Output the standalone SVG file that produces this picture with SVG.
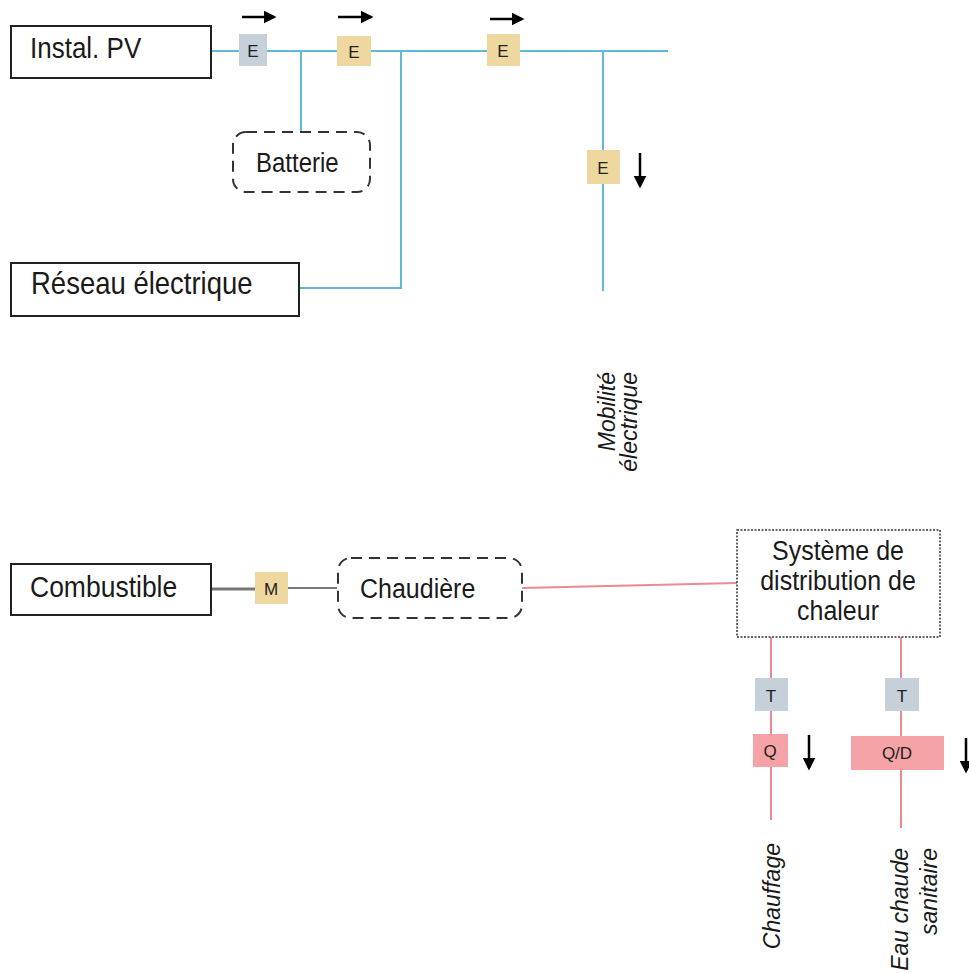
<svg xmlns="http://www.w3.org/2000/svg" width="969" height="973" viewBox="0 0 969 973">
  <style>
    .bg { fill: #ffffff; }
    .box { fill: #ffffff; stroke: #222222; stroke-width: 2; }
    .dash { fill: #ffffff; stroke: #333333; stroke-width: 2; stroke-dasharray: 11 7; }
    .dot { fill: #ffffff; stroke: #333333; stroke-width: 1.5; stroke-dasharray: 2 1.5; }
    .lbl { font-family: "Liberation Sans", Arial, sans-serif; font-size: 26px; fill: #1a1a1a; }
    .rot { font-family: "Liberation Sans", Arial, sans-serif; font-size: 23px; font-style: italic; fill: #1a1a1a; text-anchor: end; }
    .tag { font-family: "Liberation Sans", Arial, sans-serif; font-size: 17px; fill: #222222; text-anchor: middle; }
    .elec { stroke: #62b8d8; stroke-width: 2; fill: none; }
    .heat { stroke: #ec8a92; stroke-width: 2; fill: none; }
    .fuel { stroke: #777777; stroke-width: 3; fill: none; }
    .flow { stroke: #000000; stroke-width: 2.5; fill: none; marker-end: url(#head); }
    .grey { fill: #c5d0d8; }
    .sand { fill: #efd89f; }
    .rose { fill: #f5a3a7; }
  </style>
  <defs>
    <marker id="head" viewBox="0 0 10 10" refX="8" refY="5" markerWidth="5" markerHeight="5.2" orient="auto" markerUnits="strokeWidth">
      <path d="M0,0 L10,5 L0,10 Z" fill="#000000"/>
    </marker>
  </defs>
  <rect class="bg" x="0" y="0" width="969" height="973"/>

  <!-- connectors -->
  <g id="connectors">
    <path class="elec" d="M212,51 H668"/>
    <path class="elec" d="M301,51 V132"/>
    <path class="elec" d="M401,51 V288 H299"/>
    <path class="elec" d="M603,51 V291"/>
    <path class="fuel" d="M211,589 H255"/>
    <path class="fuel" d="M288,588 H337" style="stroke-width:2"/>
    <path class="heat" d="M522,588 L737,583"/>
    <path class="heat" d="M771,637 V820"/>
    <path class="heat" d="M901,637 V828"/>
  </g>

  <!-- flow arrows -->
  <g id="flow-arrows">
    <path class="flow" d="M242,17 H274"/>
    <path class="flow" d="M338,17 H371"/>
    <path class="flow" d="M490,19 H522"/>
    <path class="flow" d="M640,153 V186"/>
    <path class="flow" d="M809,735 V768"/>
    <path class="flow" d="M966,738 V771"/>
  </g>

  <!-- main nodes -->
  <g id="instal-pv">
    <rect class="box" x="11" y="26" width="200" height="52"/>
    <text class="lbl" transform="translate(30 58) scale(1 1.12)">Instal. PV</text>
  </g>
  <g id="batterie">
    <rect class="dash" x="233" y="132" width="137" height="60" rx="13"/>
    <text class="lbl" transform="translate(256 172) scale(1 1.12)" style="font-size:24px">Batterie</text>
  </g>
  <g id="reseau">
    <rect class="box" x="11" y="263" width="288" height="53"/>
    <text class="lbl" transform="translate(31 294) scale(1 1.12)" style="font-size:27.5px">Réseau électrique</text>
  </g>
  <g id="combustible">
    <rect class="box" x="11" y="564" width="200" height="51"/>
    <text class="lbl" transform="translate(30 597) scale(1 1.12)" style="font-size:26.5px">Combustible</text>
  </g>
  <g id="chaudiere">
    <rect class="dash" x="338" y="558" width="184" height="60" rx="13"/>
    <text class="lbl" transform="translate(360 598) scale(1 1.12)" style="font-size:25px">Chaudière</text>
  </g>
  <g id="distribution">
    <rect class="dot" x="737" y="530" width="203" height="107"/>
    <text class="lbl" text-anchor="middle" transform="translate(838 560) scale(1 1.12)" style="font-size:25px">Système de</text>
    <text class="lbl" text-anchor="middle" transform="translate(838 590) scale(1 1.12)" style="font-size:25px">distribution de</text>
    <text class="lbl" text-anchor="middle" transform="translate(838 620) scale(1 1.12)" style="font-size:25px">chaleur</text>
  </g>

  <!-- meters -->
  <g id="meter-e1"><rect class="grey" x="239" y="34" width="28" height="32"/><text class="tag" x="253" y="57">E</text></g>
  <g id="meter-e2"><rect class="sand" x="337" y="36" width="34" height="30"/><text class="tag" x="354" y="58">E</text></g>
  <g id="meter-e3"><rect class="sand" x="487" y="34" width="33" height="32"/><text class="tag" x="503" y="57">E</text></g>
  <g id="meter-e4"><rect class="sand" x="587" y="150" width="33" height="34"/><text class="tag" x="603" y="174">E</text></g>
  <g id="meter-m"><rect class="sand" x="255" y="572" width="33" height="32"/><text class="tag" x="271" y="595">M</text></g>
  <g id="meter-t1"><rect class="grey" x="755" y="678" width="33" height="33"/><text class="tag" x="771" y="702">T</text></g>
  <g id="meter-q"><rect class="rose" x="753" y="734" width="35" height="33"/><text class="tag" x="770" y="757">Q</text></g>
  <g id="meter-t2"><rect class="grey" x="885" y="678" width="34" height="33"/><text class="tag" x="902" y="702">T</text></g>
  <g id="meter-qd"><rect class="rose" x="851" y="736" width="93" height="34"/><text class="tag" x="897" y="759">Q/D</text></g>

  <!-- end uses -->
  <g id="mobilite">
    <text class="rot" transform="translate(615 372) rotate(-90)">Mobilité</text>
    <text class="rot" transform="translate(637 372) rotate(-90)">électrique</text>
  </g>
  <g id="chauffage">
    <text class="rot" transform="translate(780 843) rotate(-90)">Chauffage</text>
  </g>
  <g id="eau-chaude">
    <text class="rot" transform="translate(908 848) rotate(-90)">Eau chaude</text>
    <text class="rot" transform="translate(937 848) rotate(-90)">sanitaire</text>
  </g>
</svg>
